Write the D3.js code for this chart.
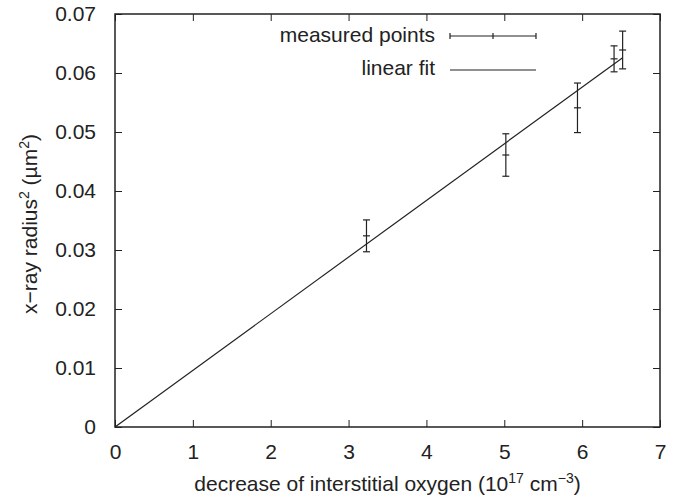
<!DOCTYPE html>
<html>
<head>
<meta charset="utf-8">
<script src="https://cdn.jsdelivr.net/npm/d3@7"></script>
<style>
  body { margin: 0; background: #fff; }
  text { font-family: 'Liberation Sans', Arial, sans-serif; fill: #222; }
</style>
</head>
<body>
<div id="chart"></div>
<script>
const xValues = [3.23, 5.02, 5.94, 6.41, 6.52]
const yValues = [0.0324, 0.0461, 0.0541, 0.0624, 0.0639]
const yErrors = [0.0027, 0.0036, 0.0042, 0.0022, 0.0032]
const fitSlope = 0.0096
const fitRange = [0, 6.52]
const xTicks = [0, 1, 2, 3, 4, 5, 6, 7]
const yTicks = [0, 0.01, 0.02, 0.03, 0.04, 0.05, 0.06, 0.07]

const width = 678
const height = 497
const margin = { top: 14, right: 18, bottom: 70, left: 115 }
const ink = '#222'
const fontSize = 21
const supSize = 14

const svg = d3.select('#chart')
  .append('svg')
  .attr('width', width)
  .attr('height', height)

const xScale = d3.scaleLinear()
  .domain([0, 7])
  .range([margin.left, width - margin.right])

const yScale = d3.scaleLinear()
  .domain([0, 0.07])
  .range([height - margin.bottom, margin.top])

const tickLen = 7

// bottom axis with labels
svg.append('g')
  .attr('transform', `translate(0, ${height - margin.bottom})`)
  .call(d3.axisBottom(xScale).tickValues(xTicks).tickFormat(d3.format('d'))
    .tickSizeInner(-tickLen).tickSizeOuter(0).tickPadding(17))
// top mirror ticks
svg.append('g')
  .attr('transform', `translate(0, ${margin.top})`)
  .call(d3.axisTop(xScale).tickValues(xTicks).tickFormat('')
    .tickSizeInner(-tickLen).tickSizeOuter(0))

svg.append('g')
  .attr('transform', `translate(${margin.left}, 0)`)
  .call(d3.axisLeft(yScale).tickValues(yTicks).tickFormat(d => d === 0 ? '0' : d3.format('.2f')(d))
    .tickSizeInner(-tickLen).tickSizeOuter(0).tickPadding(19))
svg.append('g')
  .attr('transform', `translate(${width - margin.right}, 0)`)
  .call(d3.axisRight(yScale).tickValues(yTicks).tickFormat('')
    .tickSizeInner(-tickLen).tickSizeOuter(0))

svg.selectAll('.domain').remove()
svg.selectAll('.tick line').attr('stroke', ink)
svg.selectAll('.tick text').attr('font-size', fontSize).attr('fill', ink)

// frame
svg.append('rect')
  .attr('x', margin.left)
  .attr('y', margin.top)
  .attr('width', width - margin.left - margin.right)
  .attr('height', height - margin.top - margin.bottom)
  .attr('fill', 'none')
  .attr('stroke', ink)
  .attr('stroke-width', 1.5)

// linear fit
const line = d3.line()
  .x(d => xScale(d))
  .y(d => yScale(fitSlope * d))
svg.append('path')
  .attr('d', line(fitRange))
  .attr('fill', 'none')
  .attr('stroke', ink)
  .attr('stroke-width', 1.2)

// error bars
const cap = 3.5
const points = xValues.map((x, i) => ({ x, y: yValues[i], e: yErrors[i] }))
const bars = svg.append('g').attr('stroke', ink).attr('stroke-width', 1.2)
points.forEach(p => {
  const cx = xScale(p.x)
  bars.append('line')
    .attr('x1', cx).attr('x2', cx)
    .attr('y1', yScale(p.y - p.e)).attr('y2', yScale(p.y + p.e))
  ;[p.y - p.e, p.y + p.e, p.y].forEach(v => {
    bars.append('line')
      .attr('x1', cx - cap).attr('x2', cx + cap)
      .attr('y1', yScale(v)).attr('y2', yScale(v))
  })
})

// legend
const legend = svg.append('g')
const lx0 = 450
const lx1 = 536
legend.append('text')
  .attr('x', 435).attr('y', 42)
  .attr('text-anchor', 'end')
  .attr('font-size', fontSize)
  .text('measured points')
legend.append('line')
  .attr('x1', lx0).attr('x2', lx1).attr('y1', 36).attr('y2', 36)
  .attr('stroke', ink).attr('stroke-width', 1.2)
;[lx0, (lx0 + lx1) / 2, lx1].forEach(x => {
  legend.append('line')
    .attr('x1', x).attr('x2', x).attr('y1', 33).attr('y2', 39)
    .attr('stroke', ink).attr('stroke-width', 1.2)
})
legend.append('text')
  .attr('x', 435).attr('y', 75)
  .attr('text-anchor', 'end')
  .attr('font-size', fontSize)
  .text('linear fit')
legend.append('line')
  .attr('x1', lx0).attr('x2', lx1).attr('y1', 70).attr('y2', 70)
  .attr('stroke', ink).attr('stroke-width', 1.2)

// axis titles
const xTitle = svg.append('text')
  .attr('x', (margin.left + width - margin.right) / 2)
  .attr('y', 491)
  .attr('text-anchor', 'middle')
  .attr('font-size', fontSize)
xTitle.append('tspan').text('decrease of interstitial oxygen (10')
xTitle.append('tspan').attr('dy', -8).attr('font-size', supSize).text('17')
xTitle.append('tspan').attr('dy', 8).text(' cm')
xTitle.append('tspan').attr('dy', -8).attr('font-size', supSize).text('\u22123')
xTitle.append('tspan').attr('dy', 8).text(')')

const yTitle = svg.append('text')
  .attr('transform', `translate(37, 224) rotate(-90)`)
  .attr('text-anchor', 'middle')
  .attr('font-size', fontSize)
yTitle.append('tspan').text('x\u2212ray radius')
yTitle.append('tspan').attr('dy', -8).attr('font-size', supSize).text('2')
yTitle.append('tspan').attr('dy', 8).text(' (\u00b5m')
yTitle.append('tspan').attr('dy', -8).attr('font-size', supSize).text('2')
yTitle.append('tspan').attr('dy', 8).text(')')
</script>
</body>
</html>
